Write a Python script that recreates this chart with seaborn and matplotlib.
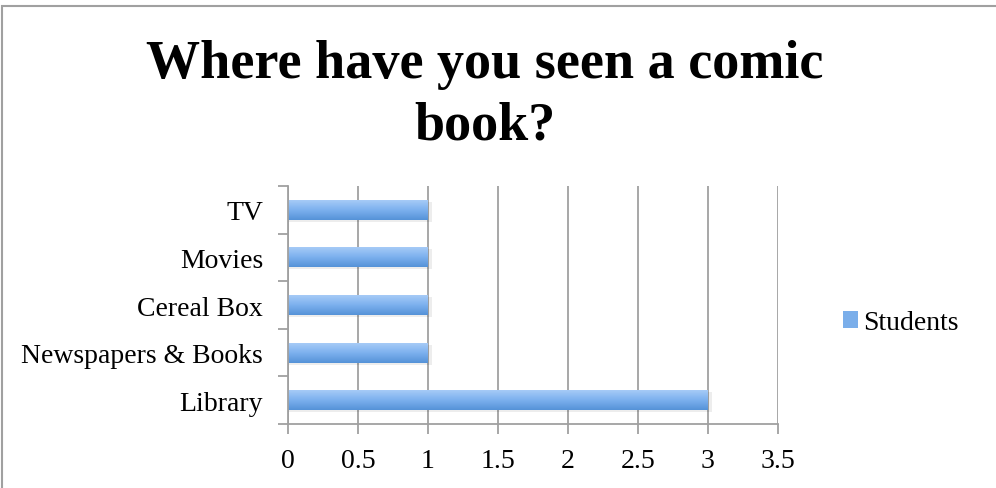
import matplotlib
matplotlib.use("Agg")
import matplotlib.pyplot as plt
import seaborn as sns
import numpy as np
import pandas as pd
from matplotlib.patches import Rectangle
from matplotlib.colors import LinearSegmentedColormap

categories = ["TV", "Movies", "Cereal Box", "Newspapers & Books", "Library"]
students = [1, 1, 1, 1, 3]
x_ticks = [0, 0.5, 1, 1.5, 2, 2.5, 3, 3.5]
x_tick_labels = ["0", "0.5", "1", "1.5", "2", "2.5", "3", "3.5"]
title = "Where have you seen a comic\nbook?"
series_name = "Students"

df = pd.DataFrame({"category": categories, "value": students})

sns.set_theme(style="white")
plt.rcParams["font.family"] = ["Liberation Serif", "DejaVu Serif"]
plt.rcParams["text.color"] = "black"
plt.rcParams["xtick.color"] = "black"
plt.rcParams["ytick.color"] = "black"

fig = plt.figure(figsize=(9.96, 4.89), dpi=100)
ax = fig.add_axes([288/996, 1-425/489, (778-288)/996, (425-187)/489])

sns.barplot(data=df, y="category", x="value", orient="h", ax=ax,
            color="#7aaeea", width=0.42, order=categories, saturation=1)

cmap = LinearSegmentedColormap.from_list("g", ["#a6cbf7", "#7cb0ee", "#5592d8"])
grad = np.linspace(0, 1, 64).reshape(-1, 1)
for p in list(ax.patches):
    x0, y0 = p.get_x(), p.get_y()
    w, h = p.get_width(), p.get_height()
    sh = Rectangle((x0, y0 + h*0.1), w + 0.025, h, facecolor="#000000", alpha=0.07,
                   edgecolor="none", zorder=1.5)
    ax.add_patch(sh)
    im = ax.imshow(grad, cmap=cmap, aspect="auto",
                   extent=[x0, x0 + w, y0 + h, y0], zorder=2.5)
    im.set_clip_path(p)
    p.set_zorder(2.5)
    p.set_edgecolor("none")

ax.set_xlim(0, 3.5)
ax.set_ylim(4.5, -0.5)
ax.set_xticks(x_ticks)
ax.set_xticklabels(x_tick_labels)
ax.set_xlabel("")
ax.set_ylabel("")

ax.grid(axis="x", color="#a0a0a0", linewidth=1.3, zorder=0)
ax.set_axisbelow(True)
for s in ["top", "right"]:
    ax.spines[s].set_visible(False)
for s in ["left", "bottom"]:
    ax.spines[s].set_color("#a0a0a0")
    ax.spines[s].set_linewidth(1.3)

ax.set_yticks(np.arange(-0.5, 5, 1), minor=True)
ax.tick_params(axis="y", which="minor", length=7, width=1.3, color="#a0a0a0", left=True)
ax.tick_params(axis="y", which="major", length=0, labelsize=20, pad=18)
ax.tick_params(axis="x", which="major", length=7, width=1.3, color="#a0a0a0",
               bottom=True, labelsize=20, pad=10)
for lab in ax.get_yticklabels() + ax.get_xticklabels():
    lab.set_color("black")

fig.text(485/996, 1-40/489, title, ha="center", va="top", fontsize=39,
         fontweight="bold", linespacing=1.3, color="black")

handle = Rectangle((0, 0), 1, 1, facecolor="#7aaeea", edgecolor="none")
fig.legend([handle], [series_name], loc="center left",
           bbox_to_anchor=(843/996, 1-324/489), frameon=False, fontsize=20,
           handlelength=0.54, handleheight=0.54, handletextpad=0.18,
           borderpad=0, borderaxespad=0)

border = Rectangle((2/996, -0.05), 1.1, 1 - 7/489 + 0.05, transform=fig.transFigure,
                   fill=False, edgecolor="#a0a0a0", linewidth=1.5)
fig.patches.append(border)

fig.savefig("out.png", dpi=100)
